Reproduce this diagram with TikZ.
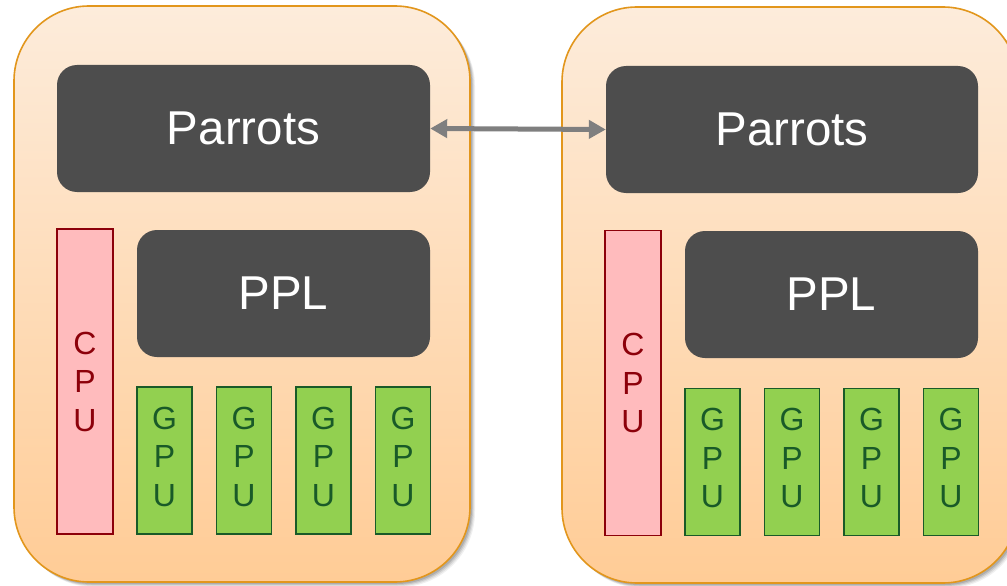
\documentclass[tikz,border=0pt]{standalone}
\usepackage{fontspec}
\setmainfont{Liberation Sans}
\usetikzlibrary{arrows.meta}
\definecolor{outerborder}{RGB}{226,150,28}
\definecolor{outertop}{RGB}{253,236,219}
\definecolor{outerbot}{RGB}{255,204,150}
\definecolor{darkbox}{RGB}{77,77,77}
\definecolor{cpufill}{RGB}{255,187,189}
\definecolor{cpuline}{RGB}{140,0,10}
\definecolor{gpufill}{RGB}{146,208,80}
\definecolor{gpuline}{RGB}{25,90,40}
\definecolor{arrowgray}{RGB}{127,127,127}
\tikzset{
  outerbox/.style={rectangle, rounded corners=75pt, draw=outerborder, line width=1.6pt,
    top color=outertop, bottom color=outerbot, minimum width=456pt, minimum height=576pt, inner sep=0pt},
  shadowbox/.style={rectangle, rounded corners=75pt, fill=black, minimum width=456pt, minimum height=576pt, inner sep=0pt},
  darkbox/.style={rectangle, rounded corners=20pt, fill=darkbox, text=white,
    font=\fontsize{47.5}{56}\selectfont, inner sep=0pt},
  cpubox/.style={rectangle, draw=cpuline, line width=1.4pt, fill=cpufill, text=cpuline,
    minimum width=56pt, minimum height=305pt, align=center, inner sep=0pt,
    font=\fontsize{32}{38.5}\selectfont},
  gpubox/.style={rectangle, draw=gpuline, line width=1.4pt, fill=gpufill, text=gpuline,
    minimum width=55pt, minimum height=147pt, align=center, inner sep=0pt,
    font=\fontsize{32}{38.5}\selectfont},
  gputext/.style={align=center, text=gpuline, inner sep=0pt, font=\fontsize{32}{38.5}\selectfont},
  link/.style={{Triangle[length=17pt,width=18pt]}-{Triangle[length=17pt,width=18pt]}, line width=5pt, draw=arrowgray}
}
\begin{document}
\begin{tikzpicture}[x=1pt,y=-1pt]
\useasboundingbox (0,0) rectangle (1007,586);
\clip (0,0) rectangle (1007,586);
\fill[white] (0,0) rectangle (1007,586);
% soft shadows
\foreach \o/\a in {5/0.06,4/0.08,3/0.1,2/0.12}{
  \node[shadowbox, opacity=\a] at (242+\o,294+\o) {};
  \node[shadowbox, opacity=\a] at (790+\o,295+\o) {};
}
% outer boxes
\node[outerbox] (nodeL) at (242,294) {};
\node[outerbox] (nodeR) at (790,295) {};
% left node
\node[darkbox, minimum width=373pt, minimum height=127pt] (parL) at (243.5,128.5) {Parrots};
\node[darkbox, minimum width=293pt, minimum height=127pt] (pplL) at (283.5,293.5) {PPL};
\node[cpubox] (cpuL) at (85,381.5) {C\\P\\U};
\foreach \n/\x in {gpuLa/164.5, gpuLb/244, gpuLc/323.5, gpuLd/403}{
  \node[gpubox] (\n) at (\x,460.5) {};
  \node[gputext] (\n t) at ([yshift=4pt]\n.center) {G\\P\\U};
}
% right node
\node[darkbox, minimum width=372pt, minimum height=127pt] (parR) at (792,129.5) {Parrots};
\node[darkbox, minimum width=293pt, minimum height=127pt] (pplR) at (831.5,294.5) {PPL};
\node[cpubox] (cpuR) at (633,383) {C\\P\\U};
\foreach \n/\x in {gpuRa/712.5, gpuRb/792, gpuRc/871.5, gpuRd/951}{
  \node[gpubox] (\n) at (\x,462) {};
  \node[gputext] (\n t) at ([yshift=4pt]\n.center) {G\\P\\U};
}
% link
\draw[link] (parL.east) -- (parR.west);
\end{tikzpicture}
\end{document}
